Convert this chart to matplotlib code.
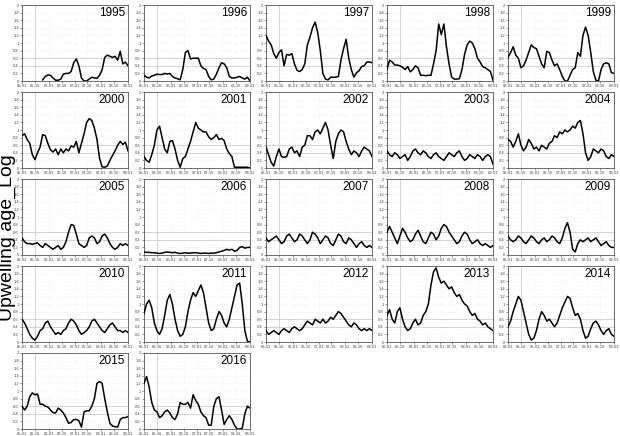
import numpy as np
import matplotlib
matplotlib.use('Agg')
import matplotlib.pyplot as plt

plt.rcParams['font.family'] = ['Liberation Sans', 'DejaVu Sans']

# sample days counted from May 1 (every 3 days up to Sep 1)
days = np.arange(0, 124, 3)
tick_days = [0, 15, 31, 46, 61, 76, 92, 107, 123]
tick_labels = ['05-01', '05-16', '06-01', '06-16', '07-01', '07-16', '08-01', '08-16', '09-01']
ytick_vals = [0, 0.2, 0.4, 0.6, 0.8, 1, 1.2, 1.4, 1.6, 1.8, 2]
nan = np.nan

v1995 = [nan, nan, nan, nan, nan, nan, nan, nan, 0.03, 0.12, 0.16, 0.15, 0.08, 0.02, 0.02, 0.05,
         0.18, 0.2, 0.2, 0.25, 0.48, 0.58, 0.4, 0.08, 0.0, 0.0, 0.05, 0.1, 0.08, 0.07, 0.15, 0.3,
         0.62, 0.68, 0.65, 0.62, 0.65, 0.55, 0.78, 0.45, 0.5, 0.4]
v1996 = [0.15, 0.1, 0.08, 0.13, 0.15, 0.18, 0.17, 0.17, 0.2, 0.18, 0.2, 0.12, 0.08, 0.06, 0.03, 0.3,
         0.75, 0.8, 0.58, 0.6, 0.6, 0.6, 0.4, 0.33, 0.3, 0.12, 0.03, 0.05, 0.18, 0.35, 0.48, 0.45,
         0.35, 0.12, 0.08, 0.08, 0.1, 0.12, 0.08, 0.05, 0.1, 0.0]
v1997 = [1.2, 1.05, 0.95, 0.72, 0.6, 0.75, 0.82, 0.4, 0.7, 0.68, 0.72, 0.45, 0.28, 0.25, 0.3, 0.45,
         0.95, 1.15, 1.4, 1.55, 1.28, 0.8, 0.2, 0.05, 0.03, 0.1, 0.1, 0.1, 0.12, 0.55, 0.85, 1.1,
         0.6, 0.3, 0.1, 0.22, 0.27, 0.38, 0.4, 0.5, 0.5, 0.48]
v1998 = [0.3, 0.55, 0.5, 0.42, 0.42, 0.4, 0.36, 0.3, 0.38, 0.24, 0.3, 0.4, 0.35, 0.15, 0.15, 0.14,
         0.15, 0.15, 0.45, 0.8, 1.5, 1.22, 1.5, 0.9, 0.45, 0.1, 0.05, 0.05, 0.06, 0.3, 0.7, 0.95,
         1.05, 1.0, 0.85, 0.6, 0.5, 0.38, 0.35, 0.3, 0.25, 0.02]
v1999 = [0.62, 0.75, 0.9, 0.68, 0.6, 0.35, 0.4, 0.55, 0.75, 0.95, 0.88, 0.85, 0.65, 0.45, 0.35, 0.78,
         0.75, 0.55, 0.4, 0.45, 0.3, 0.12, 0.0, 0.0, 0.15, 0.3, 0.35, 0.75, 0.65, 1.2, 1.42, 1.2,
         0.75, 0.25, 0.02, 0.0, 0.3, 0.45, 0.48, 0.45, 0.22, 0.2]
v2000 = [0.85, 0.9, 0.75, 0.65, 0.35, 0.22, 0.4, 0.55, 0.88, 0.85, 0.65, 0.48, 0.42, 0.5, 0.35, 0.5,
         0.4, 0.5, 0.45, 0.58, 0.55, 0.7, 0.4, 0.65, 0.9, 1.2, 1.3, 1.25, 1.05, 0.75, 0.25, 0.03,
         0.02, 0.05, 0.2, 0.33, 0.45, 0.6, 0.7, 0.62, 0.68, 0.45]
v2001 = [0.3, 0.2, 0.15, 0.35, 0.6, 1.0, 1.1, 0.8, 0.5, 0.4, 0.7, 0.72, 0.5, 0.2, 0.02, 0.25,
         0.3, 0.5, 0.7, 0.95, 1.2, 1.05, 1.0, 0.95, 0.95, 0.82, 0.75, 0.8, 0.88, 0.75, 0.78, 0.72,
         0.5, 0.38, 0.3, 0.02, 0.02, 0.02, 0.02, 0.02, 0.02, 0.0]
v2002 = [0.55, 0.35, 0.15, 0.05, 0.3, 0.5, 0.3, 0.28, 0.3, 0.5, 0.55, 0.4, 0.45, 0.3, 0.55, 0.6,
         0.85, 0.85, 0.75, 0.95, 1.0, 0.9, 1.05, 1.2, 1.0, 0.6, 0.25, 0.7, 0.9, 1.0, 0.95, 0.7,
         0.5, 0.35, 0.45, 0.4, 0.3, 0.45, 0.55, 0.5, 0.45, 0.3]
v2003 = [0.45, 0.35, 0.3, 0.4, 0.35, 0.25, 0.3, 0.35, 0.2, 0.3, 0.45, 0.5, 0.4, 0.35, 0.45, 0.4,
         0.3, 0.25, 0.35, 0.4, 0.3, 0.25, 0.2, 0.3, 0.4, 0.35, 0.3, 0.4, 0.45, 0.3, 0.2, 0.25,
         0.35, 0.3, 0.25, 0.35, 0.3, 0.2, 0.3, 0.35, 0.3, 0.1]
v2004 = [0.75, 0.7, 0.55, 0.7, 0.9, 0.6, 0.45, 0.55, 0.75, 0.65, 0.5, 0.55, 0.45, 0.6, 0.55, 0.5,
         0.65, 0.7, 0.85, 0.8, 0.95, 0.9, 1.0, 0.95, 1.0, 1.1, 1.05, 1.2, 1.25, 0.9, 0.4, 0.2,
         0.3, 0.5, 0.45, 0.4, 0.5, 0.45, 0.3, 0.25, 0.35, 0.3]
v2005 = [0.45, 0.35, 0.3, 0.3, 0.28, 0.3, 0.32, 0.25, 0.2, 0.3, 0.25, 0.2, 0.15, 0.2, 0.25, 0.15,
         0.2, 0.35, 0.6, 0.8, 0.78, 0.55, 0.3, 0.25, 0.2, 0.25, 0.45, 0.5, 0.45, 0.3, 0.35, 0.5,
         0.55, 0.45, 0.3, 0.2, 0.15, 0.2, 0.3, 0.25, 0.3, 0.25]
v2006 = [0.08, 0.07, 0.07, 0.06, 0.06, 0.05, 0.04, 0.05, 0.07, 0.08, 0.07, 0.06, 0.07, 0.05, 0.04, 0.05,
         0.06, 0.05, 0.05, 0.06, 0.06, 0.05, 0.04, 0.05, 0.05, 0.04, 0.05, 0.05, 0.06, 0.08, 0.1, 0.12,
         0.15, 0.13, 0.15, 0.1, 0.12, 0.2, 0.22, 0.18, 0.2, 0.2]
v2007 = [0.45, 0.35, 0.4, 0.45, 0.5, 0.4, 0.3, 0.35, 0.5, 0.55, 0.45, 0.35, 0.4, 0.55, 0.5, 0.4,
         0.3, 0.4, 0.6, 0.55, 0.45, 0.3, 0.4, 0.5, 0.45, 0.3, 0.25, 0.4, 0.55, 0.5, 0.35, 0.3,
         0.45, 0.4, 0.3, 0.2, 0.3, 0.35, 0.25, 0.2, 0.25, 0.2]
v2008 = [0.6, 0.75, 0.6, 0.45, 0.3, 0.5, 0.7, 0.6, 0.45, 0.35, 0.4, 0.55, 0.65, 0.5, 0.35, 0.3,
         0.45, 0.6, 0.55, 0.4, 0.5, 0.7, 0.8, 0.75, 0.6, 0.5, 0.4, 0.3, 0.35, 0.5, 0.6, 0.55,
         0.4, 0.3, 0.35, 0.4, 0.3, 0.25, 0.3, 0.25, 0.2, 0.25]
v2009 = [0.5, 0.4, 0.35, 0.4, 0.5, 0.45, 0.35, 0.3, 0.4, 0.5, 0.45, 0.35, 0.3, 0.4, 0.45, 0.35,
         0.4, 0.5, 0.45, 0.35, 0.3, 0.45, 0.7, 0.85, 0.6, 0.15, 0.08, 0.3, 0.4, 0.35, 0.4, 0.45,
         0.35, 0.4, 0.45, 0.35, 0.25, 0.3, 0.35, 0.25, 0.2, 0.2]
v2010 = [0.6, 0.5, 0.35, 0.2, 0.1, 0.05, 0.15, 0.3, 0.35, 0.5, 0.55, 0.4, 0.3, 0.2, 0.25, 0.2,
         0.3, 0.35, 0.5, 0.6, 0.55, 0.45, 0.3, 0.2, 0.25, 0.3, 0.4, 0.55, 0.6, 0.5, 0.4, 0.3,
         0.25, 0.35, 0.45, 0.5, 0.4, 0.3, 0.3, 0.25, 0.3, 0.25]
v2011 = [0.75, 1.0, 1.1, 0.9, 0.5, 0.3, 0.2, 0.35, 0.7, 1.1, 1.25, 1.0, 0.6, 0.3, 0.15, 0.2,
         0.4, 0.8, 1.1, 1.3, 1.2, 1.35, 1.5, 1.3, 0.9, 0.5, 0.3, 0.35, 0.6, 0.8, 0.7, 0.5,
         0.4, 0.6, 0.9, 1.2, 1.5, 1.55, 1.0, 0.3, 0.02, 0.0]
v2012 = [0.3, 0.2, 0.25, 0.3, 0.25, 0.2, 0.3, 0.35, 0.3, 0.25, 0.35, 0.4, 0.35, 0.3, 0.35, 0.45,
         0.55, 0.5, 0.45, 0.6, 0.55, 0.5, 0.6, 0.5, 0.55, 0.65, 0.6, 0.7, 0.8, 0.75, 0.65, 0.55,
         0.45, 0.4, 0.5, 0.45, 0.35, 0.3, 0.35, 0.3, 0.35, 0.3]
v2013 = [0.7, 0.85, 0.6, 0.5, 0.8, 0.9, 0.6, 0.4, 0.3, 0.35, 0.5, 0.6, 0.45, 0.5, 0.7, 0.8,
         1.0, 1.5, 1.85, 1.95, 1.7, 1.55, 1.6, 1.5, 1.4, 1.45, 1.3, 1.2, 1.25, 1.1, 1.0, 0.95,
         0.8, 0.7, 0.75, 0.6, 0.55, 0.45, 0.5, 0.4, 0.35, 0.3]
v2014 = [0.4, 0.55, 0.8, 1.0, 1.2, 1.1, 0.8, 0.5, 0.2, 0.05, 0.1, 0.3, 0.6, 0.8, 0.7, 0.55,
         0.6, 0.5, 0.4, 0.5, 0.7, 0.9, 1.05, 1.2, 1.15, 0.9, 0.7, 0.75, 0.6, 0.3, 0.1, 0.15,
         0.35, 0.5, 0.55, 0.45, 0.3, 0.2, 0.3, 0.35, 0.2, 0.15]
v2015 = [0.6, 0.5, 0.6, 0.85, 0.95, 0.9, 0.92, 0.65, 0.65, 0.6, 0.58, 0.5, 0.43, 0.42, 0.55, 0.5,
         0.42, 0.3, 0.15, 0.17, 0.25, 0.25, 0.22, 0.05, 0.45, 0.48, 0.48, 0.6, 0.8, 1.2, 1.25, 1.2,
         0.8, 0.45, 0.15, 0.08, 0.06, 0.05, 0.25, 0.3, 0.3, 0.33]
v2016 = [1.2, 1.38, 1.1, 0.7, 0.5, 0.45, 0.3, 0.35, 0.45, 0.5, 0.42, 0.3, 0.25, 0.4, 0.7, 0.65,
         0.65, 0.7, 0.55, 0.9, 0.75, 0.65, 0.45, 0.35, 0.3, 0.1, 0.1, 0.6, 0.8, 0.85, 0.5, 0.12,
         0.25, 0.35, 0.25, 0.1, 0.0, 0.0, 0.02, 0.4, 0.6, 0.55]

years = list(range(1995, 2017))
series = [v1995, v1996, v1997, v1998, v1999, v2000, v2001, v2002, v2003, v2004, v2005,
          v2006, v2007, v2008, v2009, v2010, v2011, v2012, v2013, v2014, v2015, v2016]

W, H = 620, 436
fig = plt.figure(figsize=(W / 100, H / 100), dpi=100)

col_left = [22, 144, 266, 387, 508]
row_top = [5, 92, 179, 266, 353]
aw, ah = 106, 76

for i, (yr, vals) in enumerate(zip(years, series)):
    r, c = divmod(i, 5)
    ax = fig.add_axes([col_left[c] / W, (H - row_top[r] - ah) / H, aw / W, ah / H])
    ax.grid(True, color='#e6e6e6', linestyle=':', linewidth=0.4)
    ax.axhline(0.4, color='#c8c8c8', linewidth=0.6, zorder=1)
    ax.axhline(0.6, color='#c8c8c8', linewidth=0.6, zorder=1)
    ax.axvline(15, color='#c8c8c8', linewidth=0.6, zorder=1)
    ax.plot(days, vals, color='black', linewidth=1.1, zorder=3)
    ax.set_xlim(0, 123)
    ax.set_ylim(0, 2)
    ax.set_xticks(tick_days)
    ax.set_xticklabels(tick_labels)
    ax.set_yticks(ytick_vals)
    ax.set_yticklabels(['%g' % v for v in ytick_vals])
    ax.tick_params(labelsize=3, length=1.2, width=0.4, pad=1, colors='#444444')
    for s in ax.spines.values():
        s.set_linewidth(0.6)
        s.set_color('#555555')
    ax.text(0.97, 0.97, str(yr), transform=ax.transAxes, ha='right', va='top',
            fontsize=8.5, zorder=4)

fig.text(0.012, 0.455, 'Upwelling age_Log', rotation=90, ha='center', va='center', fontsize=14)

fig.savefig('out.png', dpi=100)
